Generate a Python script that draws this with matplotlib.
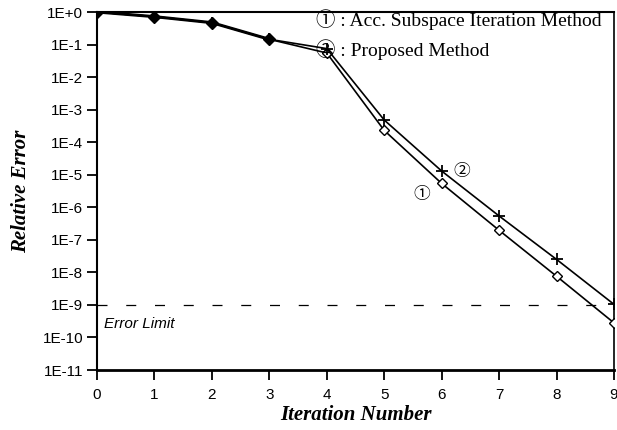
import math
import matplotlib
matplotlib.use("Agg")
import matplotlib.pyplot as plt
from matplotlib.ticker import FixedLocator, FuncFormatter

iterations = [0, 1, 2, 3, 4, 5, 6, 7, 8, 9]
acc_subspace = [1.0, 0.72, 0.47, 0.145, 0.055, 2.3e-4, 5.4e-6, 1.96e-7, 7.6e-9, 2.8e-10]
proposed = [1.0, 0.72, 0.47, 0.145, 0.075, 4.8e-4, 1.3e-5, 5.4e-7, 2.5e-8, 1.04e-9]
error_limit = 1e-9
y_exponents = list(range(0, -12, -1))

fig = plt.figure(figsize=(6.17, 4.30), dpi=100)
ax = fig.add_axes([97/617, 1-370/430, (614-97)/617, (370-12)/430])

ax.plot(iterations, acc_subspace, color="black", lw=1.2, marker="D", ms=5,
        mfc="white", mec="black", mew=1.0, zorder=3)
ax.plot(iterations, proposed, color="black", lw=1.2, marker="+", ms=9,
        mew=1.3, zorder=3)
# darker early overlap
ax.plot(iterations[:4], acc_subspace[:4], color="black", lw=2.2, marker="D",
        ms=6, mfc="black", mec="black", zorder=4)

ax.axhline(error_limit, color="black", lw=0.9, ls=(0, (8, 15)), zorder=2)

ax.set_yscale("log")
ax.set_xlim(0, 9)
ax.set_ylim(1e-11, 1)
ax.yaxis.set_major_locator(FixedLocator([10.0**e for e in y_exponents]))
ax.yaxis.set_minor_locator(FixedLocator([]))
ax.yaxis.set_major_formatter(FuncFormatter(
    lambda v, p: "1E+0" if abs(v - 1) < 1e-9 else "1E%d" % round(math.log10(v))))
ax.set_xticks(iterations)

for lab in ax.get_xticklabels() + ax.get_yticklabels():
    lab.set_family("Liberation Sans")
    lab.set_fontsize(11)
ax.tick_params(axis="both", direction="out", length=7, width=1.3, color="black", pad=3)
ax.tick_params(axis="x", pad=6)

for side, w in [("left", 1.5), ("bottom", 2.0), ("top", 1.5), ("right", 1.2)]:
    ax.spines[side].set_linewidth(w)

ax.set_xlabel("Iteration Number", family="Liberation Serif", fontsize=15,
              fontweight="bold", fontstyle="italic", labelpad=2)
ax.set_ylabel("Relative Error", family="Liberation Serif", fontsize=15,
              fontweight="bold", fontstyle="italic", labelpad=8)

fam = ["Liberation Serif", "Noto Sans CJK JP", "DejaVu Sans"]
ax.text(3.82, 0.58, "\u2460 : Acc. Subspace Iteration Method", family=fam,
        fontsize=14, va="center", ha="left")
ax.text(3.82, 0.068, "\u2461 : Proposed Method", family=fam,
        fontsize=14, va="center", ha="left")
ax.text(5.65, 2.4e-6, "\u2460", family=fam, fontsize=12, va="center", ha="center")
ax.text(6.35, 1.2e-5, "\u2461", family=fam, fontsize=12, va="center", ha="center")

ax.text(0.12, 2.6e-10, "Error Limit", family="Liberation Sans", fontsize=11,
        fontstyle="italic", va="center", ha="left")

fig.savefig("out.png", dpi=100)
